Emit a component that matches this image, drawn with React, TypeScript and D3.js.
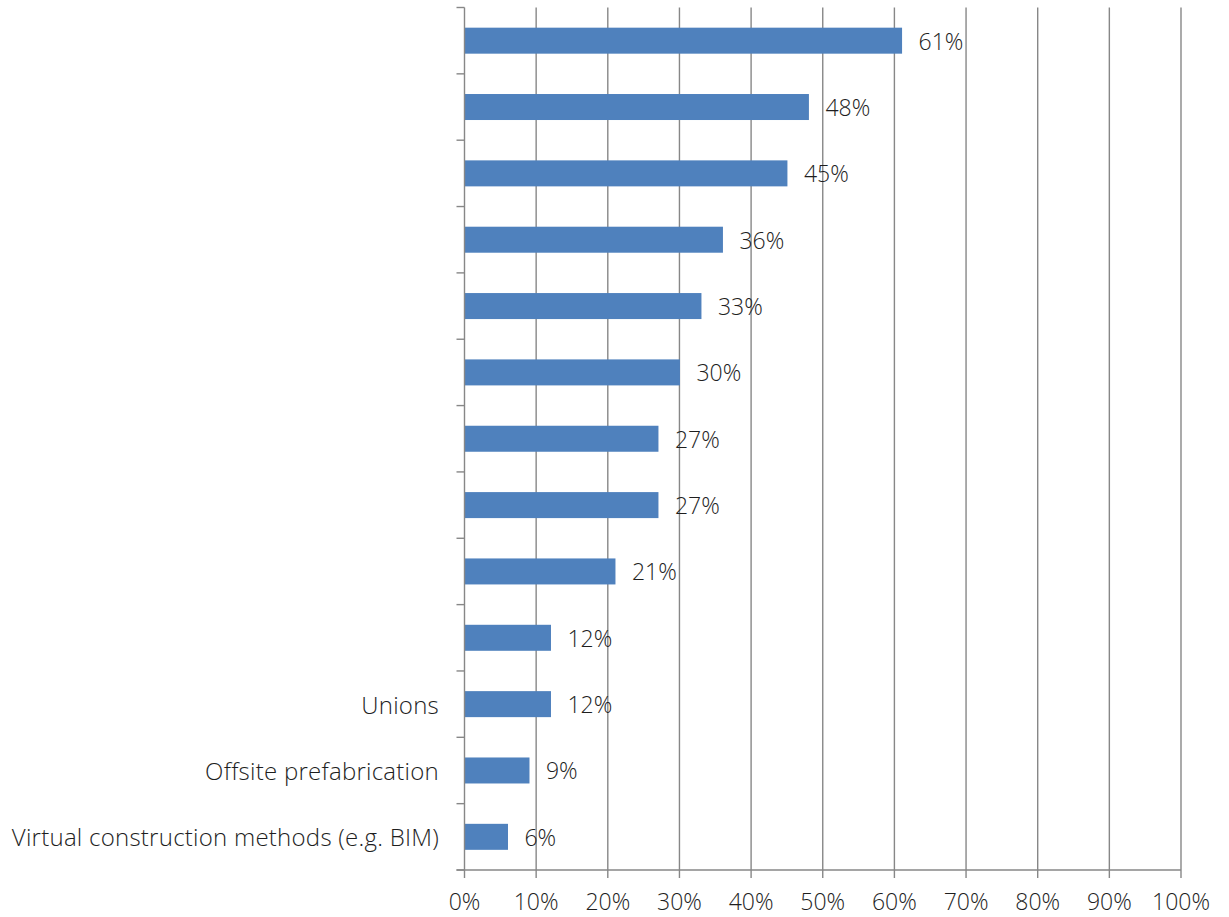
import React from "react";
import * as d3 from "d3";

const categories: string[] = [
  "", "", "", "", "", "", "", "", "", "",
  "Unions",
  "Offsite prefabrication",
  "Virtual construction methods (e.g. BIM)",
];
const values: number[] = [61, 48, 45, 36, 33, 30, 27, 27, 21, 12, 12, 9, 6];
const xTicks: number[] = [0, 10, 20, 30, 40, 50, 60, 70, 80, 90, 100];

const W = 1229;
const H = 917;
const left = 464.5;
const right = 1181;
const top = 7.5;
const bottom = 870;
const FONT = "'Open Sans', 'Segoe UI', sans-serif";
const GRID = "#878787";
const TEXT = "#1e1e1e";
const FS = 23;

export default function App() {
  const x = d3.scaleLinear().domain([0, 100]).range([left, right]);
  const y = d3
    .scaleBand<number>()
    .domain(d3.range(categories.length))
    .range([top, bottom]);
  const step = y.step();
  const bw = 26;

  return (
    <svg
      width={W}
      height={H}
      style={{ position: "absolute", left: 0, top: 0, background: "#fff" }}
      fontFamily={FONT}
    >
      {xTicks.slice(1).map((t) => (
        <line key={"g" + t} x1={x(t)} x2={x(t)} y1={top} y2={bottom} stroke={GRID} strokeWidth={1.4} />
      ))}
      {values.map((v, i) => {
        const cy = (y(i) as number) + step / 2;
        return (
          <rect key={"b" + i} x={x(0) + 0.5} y={cy - bw / 2} width={x(v) - x(0)} height={bw} fill="#4F81BD" />
        );
      })}
      <line x1={left} x2={left} y1={top} y2={bottom} stroke={GRID} strokeWidth={1.4} />
      {d3.range(categories.length + 1).map((i) => (
        <line key={"yt" + i} x1={left - 8} x2={left} y1={top + step * i} y2={top + step * i} stroke={GRID} strokeWidth={1.4} />
      ))}
      <line x1={left - 8} x2={right} y1={bottom} y2={bottom} stroke={GRID} strokeWidth={1.4} />
      {xTicks.map((t) => (
        <line key={"xt" + t} x1={x(t)} x2={x(t)} y1={bottom} y2={bottom + 8} stroke={GRID} strokeWidth={1.4} />
      ))}
      {xTicks.map((t) => (
        <text key={"xl" + t} x={x(t)} y={901} textAnchor="middle" dominantBaseline="central" fontSize={FS} fontWeight={300} fill={TEXT}>
          {t + "%"}
        </text>
      ))}
      {categories.map((c, i) => (
        <text key={"c" + i} x={439} y={(y(i) as number) + step / 2} textAnchor="end" dominantBaseline="central" fontSize={24} letterSpacing={0.25} fontWeight={300} fill={TEXT}>
          {c}
        </text>
      ))}
      {values.map((v, i) => (
        <text key={"v" + i} x={x(v) + 17} y={(y(i) as number) + step / 2} dominantBaseline="central" fontSize={FS} fontWeight={300} fill={TEXT}>
          {v + "%"}
        </text>
      ))}
    </svg>
  );
}
